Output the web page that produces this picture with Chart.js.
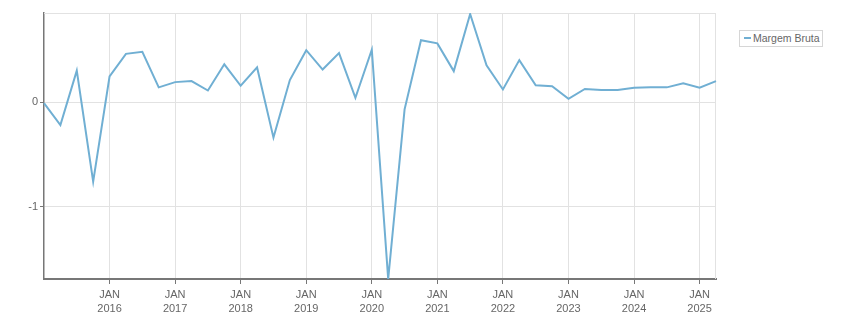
<!DOCTYPE html>
<html>
<head>
<meta charset="utf-8">
<script src="https://cdn.jsdelivr.net/npm/chart.js@4.4.1/dist/chart.umd.min.js"></script>
<style>
  html, body { margin: 0; padding: 0; background: #fff; }
  #wrap { position: relative; width: 851px; height: 313px; }
  #legend {
    position: absolute; left: 739px; top: 30px; height: 15px;
    border: 1px solid #d6d6d6; padding: 0 2px 0 4px;
    font: 10.5px "Liberation Sans", Arial, sans-serif; color: #666;
    line-height: 15px; white-space: nowrap; background: #fff;
  }
  #legend .mk { display: inline-block; width: 7px; height: 2px; vertical-align: middle; margin-right: 2px; position: relative; top: -1px; }
</style>
</head>
<body>
<div id="wrap">
  <canvas id="c"></canvas>
  <div id="legend"></div>
</div>
<script>
// Quarterly periods (Jan 2015 .. Apr 2025)
const periods = [
  'JAN 2015','ABR 2015','JUL 2015','OUT 2015',
  'JAN 2016','ABR 2016','JUL 2016','OUT 2016',
  'JAN 2017','ABR 2017','JUL 2017','OUT 2017',
  'JAN 2018','ABR 2018','JUL 2018','OUT 2018',
  'JAN 2019','ABR 2019','JUL 2019','OUT 2019',
  'JAN 2020','ABR 2020','JUL 2020','OUT 2020',
  'JAN 2021','ABR 2021','JUL 2021','OUT 2021',
  'JAN 2022','ABR 2022','JUL 2022','OUT 2022',
  'JAN 2023','ABR 2023','JUL 2023','OUT 2023',
  'JAN 2024','ABR 2024','JUL 2024','OUT 2024',
  'JAN 2025','ABR 2025'
];
const seriesName = 'Margem Bruta';
const margemBruta = [
  -0.01, -0.22, 0.30, -0.76,
  0.245, 0.46, 0.48, 0.14,
  0.19, 0.20, 0.11, 0.36,
  0.155, 0.33, -0.34, 0.21,
  0.495, 0.31, 0.467, 0.04,
  0.50, -1.69, -0.07, 0.59,
  0.56, 0.295, 0.84, 0.35,
  0.12, 0.40, 0.16, 0.15,
  0.03, 0.125, 0.115, 0.115,
  0.137, 0.14, 0.14, 0.18,
  0.137, 0.20
];
const yTicks = [-1, 0];

const lineColor = '#70afd3';
const gridColor = '#e2e2e2';
const axisColor = '#777777';
const textColor = '#666666';

function isLabeledTick(i) {
  return i > 0 && periods[i] && periods[i].startsWith('JAN');
}

const frame = {
  id: 'frame',
  beforeDatasetsDraw(chart) {
    const a = chart.chartArea, ctx = chart.ctx;
    ctx.save();
    ctx.strokeStyle = gridColor;
    ctx.lineWidth = 1;
    ctx.beginPath();
    ctx.moveTo(a.left, Math.round(a.top) + 0.5);
    ctx.lineTo(a.right, Math.round(a.top) + 0.5);
    ctx.moveTo(Math.round(a.right) - 0.5, a.top);
    ctx.lineTo(Math.round(a.right) - 0.5, a.bottom);
    ctx.stroke();
    ctx.restore();
  }
};

new Chart(document.getElementById('c'), {
  type: 'line',
  data: {
    labels: periods,
    datasets: [{
      label: seriesName,
      data: margemBruta,
      borderColor: lineColor,
      backgroundColor: lineColor,
      borderWidth: 2,
      pointRadius: 0,
      pointHoverRadius: 0,
      tension: 0,
      fill: false
    }]
  },
  options: {
    responsive: true,
    maintainAspectRatio: false,
    animation: false,
    layout: { padding: { top: 13, right: 135, left: 0, bottom: 0 } },
    plugins: { legend: { display: false }, tooltip: { enabled: false } },
    scales: {
      x: {
        type: 'category',
        offset: false,
        afterFit(s) { s.height = 34; },
        border: { color: axisColor, width: 2 },
        grid: {
          color: (c) => isLabeledTick(c.index) ? gridColor : 'rgba(0,0,0,0)',
          tickColor: (c) => isLabeledTick(c.index) ? axisColor : 'rgba(0,0,0,0)',
          tickLength: 5,
          drawOnChartArea: true
        },
        ticks: {
          autoSkip: false,
          maxRotation: 0,
          minRotation: 0,
          padding: 4,
          color: textColor,
          font: { family: '"Liberation Sans", Arial, sans-serif', size: 11, lineHeight: 1.27 },
          callback(v, i) {
            if (!isLabeledTick(i)) return '';
            const p = periods[i].split(' ');
            return [p[0], p[1]];
          }
        }
      },
      y: {
        min: -1.69,
        max: 0.85,
        afterFit(s) { s.width = 44; },
        afterBuildTicks(s) { s.ticks = yTicks.map(v => ({ value: v })); },
        border: { color: axisColor, width: 1.5 },
        grid: { color: gridColor, tickColor: axisColor, tickLength: 4 },
        ticks: {
          padding: 2,
          color: textColor,
          font: { family: '"Liberation Sans", Arial, sans-serif', size: 11 },
          callback: (v) => String(v)
        }
      }
    }
  },
  plugins: [frame]
});

document.getElementById('legend').innerHTML =
  '<span class="mk" style="background:' + lineColor + '"></span>' + seriesName;
</script>
</body>
</html>
